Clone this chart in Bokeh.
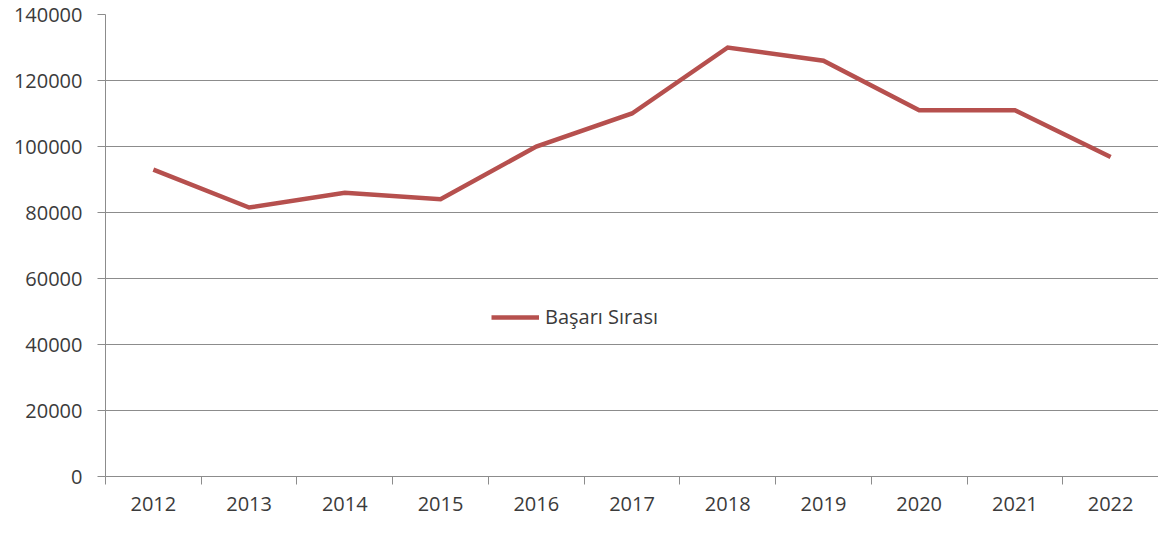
from bokeh.plotting import figure
from bokeh.models import FixedTicker, Legend, LegendItem, Range1d, BasicTickFormatter
from bokeh.embed import file_html
from bokeh.resources import INLINE

years = [2012, 2013, 2014, 2015, 2016, 2017, 2018, 2019, 2020, 2021, 2022]
basari_sirasi = [93000, 81500, 86000, 84000, 100000, 110000, 130000, 126000, 111000, 111000, 96800]
y_ticks = [0, 20000, 40000, 60000, 80000, 100000, 120000, 140000]
series_name = "Başarı Sırası"

FONT = "Open Sans"
TXT = "#3b3b3b"
GRID = "#8c8c8c"
LINE = "#b6504e"

p = figure(width=1158, height=520, output_backend="svg", toolbar_location=None,
           x_range=Range1d(years[0] - 0.5, years[-1] + 0.5), y_range=Range1d(0, 140000),
           min_border_left=105, min_border_right=0, min_border_top=14, min_border_bottom=44)
p.outline_line_color = None
p.background_fill_color = "white"

r = p.line(years, basari_sirasi, line_color=LINE, line_width=4.5, line_join="miter")

p.xaxis.ticker = FixedTicker(ticks=years, minor_ticks=[y - 0.5 for y in years] + [years[-1] + 0.5])
p.xaxis.major_tick_out = 0
p.xaxis.major_tick_in = 0
p.xaxis.minor_tick_out = 8
p.xaxis.minor_tick_in = 0
p.xaxis.minor_tick_line_color = GRID
p.xaxis.axis_line_color = GRID
p.xaxis.major_label_text_font = FONT
p.xaxis.major_label_text_font_size = "20px"
p.xaxis.major_label_text_color = TXT
p.xaxis.major_label_standoff = 12

p.yaxis.ticker = FixedTicker(ticks=y_ticks, minor_ticks=[])
p.yaxis.formatter = BasicTickFormatter(use_scientific=False)
p.yaxis.major_tick_out = 8
p.yaxis.major_tick_in = 0
p.yaxis.major_tick_line_color = GRID
p.yaxis.axis_line_color = GRID
p.yaxis.major_label_text_font = FONT
p.yaxis.major_label_text_font_size = "20px"
p.yaxis.major_label_text_color = TXT
p.yaxis.major_label_standoff = 15

p.xgrid.grid_line_color = None
p.ygrid.ticker = FixedTicker(ticks=y_ticks)
p.ygrid.grid_line_color = GRID
p.ygrid.grid_line_width = 1

legend = Legend(items=[LegendItem(label=series_name, renderers=[r])],
                location=(386, 146), orientation="horizontal",
                border_line_color=None, background_fill_alpha=0,
                padding=0, margin=0, glyph_width=48, glyph_height=20,
                label_standoff=6, label_text_font=FONT, label_text_font_size="20px",
                label_text_color=TXT)
p.add_layout(legend)

open("out.html", "w").write(file_html(p, INLINE))
